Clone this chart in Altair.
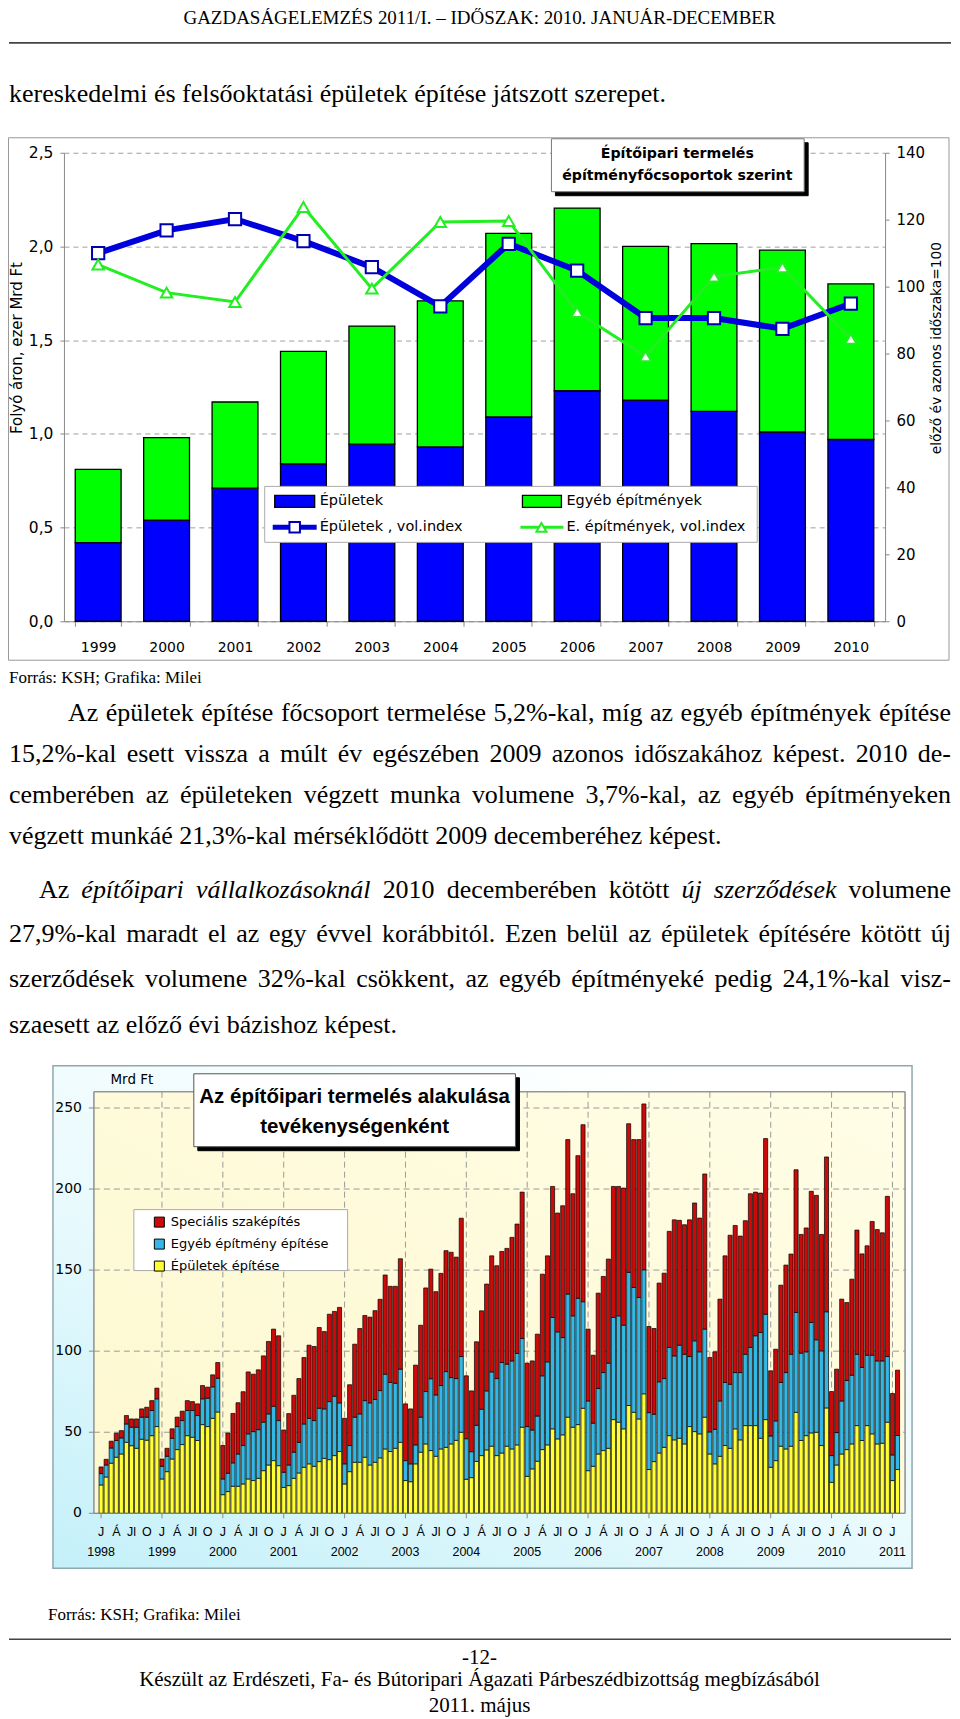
import altair as alt
import pandas as pd

SERIF = "Liberation Serif"
VERD = "DejaVu Sans"
ARIAL = "Liberation Sans"

# ---------------- chart 1 data (ezer Mrd Ft, index) ----------------
EVEK = ["1999", "2000", "2001", "2002", "2003", "2004", "2005", "2006", "2007", "2008", "2009", "2010"]
EPULETEK_FT = [0.42, 0.54, 0.71, 0.84, 0.945, 0.93, 1.09, 1.23, 1.18, 1.12, 1.01, 0.97]
EGYEB_FT = [0.39, 0.44, 0.46, 0.60, 0.63, 0.78, 0.98, 0.975, 0.82, 0.895, 0.97, 0.83]
EPULETEK_INDEX = [110.0, 116.8, 120.2, 113.6, 105.8, 94.1, 112.8, 104.8, 90.6, 90.6, 87.4, 94.9]
EGYEB_INDEX = [106.6, 98.2, 95.4, 123.8, 99.4, 119.3, 119.6, 92.4, 79.2, 103.0, 105.8, 84.4]
SOR1 = ["Épületek", "Egyéb építmények"]
LEFT_TICKS = [0, 0.5, 1.0, 1.5, 2.0, 2.5]
RIGHT_TICKS = [0, 20, 40, 60, 80, 100, 120, 140]

# ---------------- chart 2 data (Mrd Ft, monthly 1998-01 .. 2011-02) ----------------
HONAP_BETUK = ["J", "Á", "Jl", "O"]
EV_CIMKEK = ["1998", "1999", "2000", "2001", "2002", "2003", "2004",
             "2005", "2006", "2007", "2008", "2009", "2010", "2011"]
SOR2 = ["Speciális szaképítés", "Egyéb építmény építése", "Épületek építése"]
Y2_TICKS = [0, 50, 100, 150, 200, 250]

EPULETEK_EPITES = [
    17.5, 22.4, 30.9, 34.6, 36.6, 43.8, 41.7, 40.1, 45.7, 45.1, 47.9, 53.5,
    21.2, 25.7, 33.5, 39.3, 42.4, 47.9, 46.9, 44.9, 54.7, 53.5, 58.6, 62.5,
    11.5, 13.4, 16.7, 16.7, 18.1, 21.2, 20.2, 21.6, 26.3, 29.8, 32.5, 29.4,
    16.0, 17.1, 21.6, 24.9, 28.4, 30.5, 29.0, 31.9, 33.9, 33.1, 35.6, 38.1,
    18.1, 25.7, 31.5, 31.5, 34.6, 29.8, 31.5, 34.2, 39.7, 38.1, 40.1, 43.8,
    20.2, 19.5, 30.5, 37.7, 42.8, 38.7, 35.2, 39.7, 40.7, 42.8, 45.0, 50.0,
    21.0, 22.0, 32.0, 35.6, 39.1, 41.4, 35.6, 37.2, 41.4, 39.7, 42.2, 53.1,
    22.8, 27.4, 32.1, 39.3, 42.2, 52.1, 45.9, 48.4, 59.3, 53.1, 54.7, 64.8,
    26.3, 29.0, 36.6, 38.7, 40.1, 57.8, 56.2, 52.1, 66.5, 62.3, 58.2, 73.7,
    27.0, 31.9, 37.2, 40.7, 47.9, 45.3, 46.3, 42.8, 53.5, 50.4, 49.0, 59.3,
    36.6, 30.5, 35.2, 41.8, 40.1, 52.1, 45.3, 54.1, 54.1, 54.1, 46.3, 57.8,
    28.4, 32.5, 41.4, 39.7, 41.4, 62.3, 44.9, 47.9, 49.6, 50.0, 41.8, 65.0,
    19.1, 29.8, 36.6, 39.3, 42.8, 54.1, 44.9, 54.1, 49.0, 42.8, 43.2, 56.2,
    20.2, 27.0,
]
EGYEB_EPITES = [
    7.0, 7.4, 9.4, 10.3, 9.9, 11.3, 11.4, 13.0, 13.6, 14.2, 15.5, 17.1,
    7.8, 9.5, 12.8, 14.2, 14.8, 15.5, 16.5, 15.4, 15.9, 17.5, 19.4, 20.8,
    9.7, 11.3, 14.4, 19.9, 23.7, 27.8, 30.2, 30.0, 29.9, 31.5, 33.5, 27.8,
    9.3, 12.7, 16.1, 18.9, 26.7, 28.1, 28.2, 32.9, 30.5, 35.8, 36.6, 30.0,
    12.4, 16.1, 27.8, 29.8, 34.9, 38.3, 38.7, 41.5, 46.1, 42.6, 40.1, 45.1,
    12.3, 11.0, 11.7, 21.6, 32.3, 44.3, 37.8, 39.1, 46.7, 40.9, 38.1, 46.7,
    25.0, 16.0, 22.3, 28.6, 36.4, 45.8, 47.5, 55.8, 50.6, 54.3, 56.4, 54.7,
    30.7, 24.0, 27.9, 45.5, 51.2, 68.7, 66.0, 60.0, 75.9, 68.7, 77.9, 65.7,
    43.0, 26.6, 40.4, 48.1, 52.5, 63.0, 65.6, 63.9, 82.1, 77.0, 74.9, 76.5,
    35.1, 29.2, 43.9, 42.4, 54.4, 51.8, 57.4, 55.3, 43.2, 56.0, 50.6, 54.3,
    13.6, 21.3, 34.1, 38.9, 39.5, 34.7, 41.5, 44.0, 48.2, 55.4, 65.2, 65.0,
    19.3, 24.5, 39.3, 47.1, 56.7, 61.6, 53.9, 51.7, 68.1, 57.0, 58.4, 59.3,
    16.5, 20.0, 32.7, 42.6, 42.4, 44.0, 45.1, 43.4, 48.5, 51.2, 50.8, 40.5,
    15.8, 21.0,
]
SPECIALIS_SZAKEPITES = [
    4.1, 3.5, 4.2, 4.5, 4.5, 5.2, 5.1, 5.1, 5.1, 6.1, 6.1, 6.6,
    4.5, 4.9, 5.8, 5.8, 5.8, 6.1, 5.5, 7.2, 8.2, 6.8, 7.4, 9.7,
    20.6, 24.8, 30.5, 31.6, 33.2, 38.2, 35.4, 36.9, 40.9, 44.7, 47.6, 52.3,
    26.1, 31.7, 35.1, 39.3, 41.0, 45.1, 45.7, 49.8, 47.7, 53.9, 52.3, 58.9,
    28.1, 37.5, 45.0, 52.7, 52.5, 52.9, 54.8, 56.3, 61.2, 59.3, 59.8, 68.1,
    35.0, 33.9, 49.2, 56.7, 63.9, 67.6, 63.7, 69.2, 74.6, 77.3, 74.9, 85.3,
    38.8, 37.5, 51.5, 60.7, 65.9, 71.6, 69.6, 68.5, 71.4, 76.2, 79.8, 90.3,
    39.1, 42.6, 50.5, 62.7, 65.4, 80.8, 73.3, 81.3, 95.3, 75.3, 88.0, 109.2,
    44.3, 41.9, 58.8, 59.3, 64.2, 80.8, 79.8, 84.6, 91.7, 91.2, 97.4, 102.3,
    53.1, 52.9, 60.9, 65.0, 71.6, 83.9, 77.0, 79.9, 84.3, 85.0, 82.5, 95.7,
    45.9, 47.8, 62.8, 78.1, 91.9, 90.7, 84.2, 82.4, 94.8, 88.6, 86.0, 108.3,
    40.2, 44.2, 60.0, 66.3, 61.8, 88.0, 73.2, 76.4, 80.9, 89.1, 71.8, 95.5,
    39.5, 39.1, 62.8, 48.1, 59.2, 76.6, 70.0, 67.5, 82.5, 81.0, 79.0, 98.8,
    37.9, 40.3,
]

# ---------------- page texts ----------------
HEADER = "GAZDASÁGELEMZÉS 2011/I. – IDŐSZAK: 2010. JANUÁR-DECEMBER"
INTRO = "kereskedelmi és felsőoktatási épületek építése játszott szerepet."
FORRAS = "Forrás: KSH; Grafika: Milei"
TITLE1 = ["Építőipari termelés", "építményfőcsoportok szerint"]
TITLE2 = ["Az építőipari termelés alakulása", "tevékenységenként"]
LEG1 = ["Épületek", "Épületek , vol.index", "Egyéb építmények", "E. építmények, vol.index"]
FOOTER = ["-12-", "Készült az Erdészeti, Fa- és Bútoripari Ágazati Párbeszédbizottság megbízásából",
          "2011. május"]
PARA = [
    [("Az épületek építése főcsoport termelése 5,2%-kal, míg az egyéb építmények építése", False)],
    [("15,2%-kal esett vissza a múlt év egészében 2009 azonos időszakához képest. 2010 de-", False)],
    [("cemberében az épületeken végzett munka volumene 3,7%-kal, az egyéb építményeken", False)],
    [("végzett munkáé 21,3%-kal mérséklődött 2009 decemberéhez képest.", False)],
    [("Az", False), ("építőipari vállalkozásoknál", True), ("2010 decemberében kötött", False),
     ("új szerződések", True), ("volumene", False)],
    [("27,9%-kal maradt el az egy évvel korábbitól. Ezen belül az épületek építésére kötött új", False)],
    [("szerződések volumene 32%-kal csökkent, az egyéb építményeké pedig 24,1%-kal visz-", False)],
    [("szaesett az előző évi bázishoz képest.", False)],
]
# layout (page px): (baseline-middle y, left x, justified)
PARA_LAYOUT = [(713, 68, True), (754, 9, True), (795, 9, True), (836, 9, False),
               (890, 39, True), (934, 9, True), (979, 9, True), (1025, 9, False)]
PARA_RIGHT = 952
PARA_SIZE = 26

# Times New Roman advance widths (1/1000 em) for word placement of justified lines
_TR = dict(zip("abcdefghijklmnopqrstuvwxyz", [444, 500, 444, 500, 444, 333, 500, 500, 278, 278, 500, 278, 778,
                                              500, 500, 500, 500, 333, 389, 278, 500, 500, 722, 500, 500, 444]))
_TR.update({"á": 444, "é": 444, "í": 278, "ó": 500, "ö": 500, "ő": 500, "ú": 500, "ü": 500, "ű": 500,
            "A": 722, "E": 611, "K": 722, " ": 250, ",": 250, ".": 250, "%": 833, "-": 333, ":": 278})
for _d in "0123456789":
    _TR[_d] = 500
_TI = dict(_TR)
_TI.update(dict(zip("abcdefghijklmnopqrstuvwxyz", [500, 500, 444, 500, 444, 278, 500, 500, 278, 278, 444, 278, 722,
                                                   500, 500, 500, 500, 389, 389, 278, 500, 444, 667, 444, 444, 389])))
_TI.update({"á": 500, "é": 444, "í": 278, "ó": 500, "ö": 500, "ő": 500, "ú": 500, "ü": 500, "ű": 500})


def tw(s, it):
    tab = _TI if it else _TR
    return sum(tab.get(c, 500) for c in s) / 1000.0


ONE = pd.DataFrame({"k": [0]})
PX0 = 64  # page x of the common view origin


def txt(s, x, y, oy, size, font=SERIF, align="left", style="normal", weight="normal"):
    return alt.Chart(ONE).mark_text(
        align=align, baseline="middle", font=font, fontSize=size, fontStyle=style,
        fontWeight=weight, color="black"
    ).encode(x=alt.value(x - PX0), y=alt.value(y - oy), text=alt.value(s))


def box(x1, y1, x2, y2, oy, fill="white", stroke="#999999", sw=1.0, fo=1.0):
    return alt.Chart(ONE).mark_rect(fill=fill, fillOpacity=fo, stroke=stroke, strokeWidth=sw).encode(
        x=alt.value(x1 - PX0), x2=alt.value(x2 - PX0), y=alt.value(y1 - oy), y2=alt.value(y2 - oy))


def hline(x1, x2, y, oy, color="#333333", sw=1.5):
    return alt.Chart(ONE).mark_rule(color=color, strokeWidth=sw).encode(
        x=alt.value(x1 - PX0), x2=alt.value(x2 - PX0), y=alt.value(y - oy))


def sym(x, y, oy, shape, stroke, size):
    return alt.Chart(ONE).mark_point(shape=shape, size=size, filled=True, fill="white",
                                     stroke=stroke, strokeWidth=2, opacity=1).encode(
        x=alt.value(x - PX0), y=alt.value(y - oy))


# ---------------- row 1: header ----------------
OY_R1 = 8
row1 = alt.layer(
    txt(HEADER, 480, 17, OY_R1, 19, align="center"),
    hline(9, 952, 42, OY_R1, "#444444", 1.6),
    txt(INTRO, 9, 93, OY_R1, 26),
).properties(width=822, height=144)

# ---------------- row 2: chart 1 ----------------
OY1 = 152
W1, H1 = 822, 469
df_bar = pd.DataFrame({
    "ev": EVEK + EVEK,
    "sor": [SOR1[0]] * len(EVEK) + [SOR1[1]] * len(EVEK),
    "ertek": EPULETEK_FT + EGYEB_FT,
    "rend": [0] * len(EVEK) + [1] * len(EVEK),
})
df_ie = pd.DataFrame({"ev": EVEK, "index": EPULETEK_INDEX})
df_ig = pd.DataFrame({"ev": EVEK, "index": EGYEB_INDEX})

x1_axis = alt.Axis(title=None, labelAngle=0, labelFont=VERD, labelFontSize=14, labelColor="black",
                   tickBand="extent", tickSize=5, tickColor="#888888", domainColor="#888888",
                   labelPadding=14, grid=False)
x1 = alt.X("ev:N", sort=EVEK, scale=alt.Scale(paddingInner=0.33, paddingOuter=0.165), axis=x1_axis)

TITLE_Y = 347 - OY1
y1_axis = alt.Axis(orient="left", title="Folyó áron, ezer Mrd Ft", values=LEFT_TICKS,
                   labelExpr="replace(format(datum.value, '.1f'), '.', ',')",
                   labelFont=VERD, labelFontSize=15.5, labelColor="black",
                   titleFont=VERD, titleFontSize=15, titleFontWeight="normal", titleColor="black",
                   titleX=17 - PX0, titleY=TITLE_Y, titleAngle=270, titleAlign="center",
                   titleBaseline="middle", tickSize=4, tickColor="#888888", domainColor="#888888",
                   labelPadding=7, grid=True, gridDash=[5, 4], gridColor="#a0a0a0")
y1r_axis = alt.Axis(orient="right", title="előző év azonos időszaka=100", values=RIGHT_TICKS,
                    labelFont=VERD, labelFontSize=15, labelColor="black",
                    titleFont=VERD, titleFontSize=13.8, titleFontWeight="normal", titleColor="black",
                    titleX=937 - 886, titleY=TITLE_Y, titleAngle=270, titleAlign="center",
                    titleBaseline="middle", tickSize=4, tickColor="#888888",
                    domainColor="#888888", labelPadding=7, grid=False)
y1r = alt.Y("index:Q", scale=alt.Scale(domain=[0, 140], nice=False), axis=y1r_axis)

bars1 = alt.Chart(df_bar).mark_bar(stroke="black", strokeWidth=1.3).encode(
    x=x1,
    y=alt.Y("ertek:Q", stack="zero", scale=alt.Scale(domain=[0, 2.5], nice=False), axis=y1_axis),
    color=alt.Color("sor:N", scale=alt.Scale(domain=SOR1, range=["#0000ff", "#00ff00"]), legend=None),
    order=alt.Order("rend:Q"),
)
line_e = alt.Chart(df_ie).mark_line(color="#0000dd", strokeWidth=6).encode(x=x1, y=y1r)
pts_e = alt.Chart(df_ie).mark_point(shape="square", size=150, filled=True, fill="white",
                                   stroke="#0000b0", strokeWidth=2, opacity=1).encode(x=x1, y=y1r)
line_g = alt.Chart(df_ig).mark_line(color="#22ee22", strokeWidth=3).encode(x=x1, y=y1r)
pts_g = alt.Chart(df_ig).mark_point(shape="triangle-up", size=130, filled=True, fill="white",
                                   stroke="#22ee22", strokeWidth=2, opacity=1).encode(x=x1, y=y1r)
idx_layer = alt.layer(line_e, pts_e, line_g, pts_g)

frame1 = box(8.5, 137, 950, 660, OY1, fill="white", stroke="#999999", sw=1, fo=0)
LEGF = 14.5
legend1 = [
    box(265, 486, 758, 542, OY1, fill="white", stroke="#aaaaaa", sw=1),
    box(275, 495, 315, 507, OY1, fill="#0000ff", stroke="black", sw=1.3),
    txt(LEG1[0], 320, 501, OY1, LEGF, font=VERD),
    hline(273, 317, 527, OY1, "#0000dd", 5),
    sym(295, 527, OY1, "square", "#0000b0", 110),
    txt(LEG1[1], 320, 527, OY1, LEGF, font=VERD),
    box(523, 495, 562, 507, OY1, fill="#00ff00", stroke="black", sw=1.3),
    txt(LEG1[2], 567, 501, OY1, LEGF, font=VERD),
    hline(521, 564, 527, OY1, "#22ee22", 3),
    sym(542, 527, OY1, "triangle-up", "#22ee22", 100),
    txt(LEG1[3], 567, 527, OY1, LEGF, font=VERD),
]
title1 = [
    box(556, 142, 809, 195, OY1, fill="black", stroke="black", sw=1),
    box(552, 138, 805, 191, OY1, fill="white", stroke="#777777", sw=1),
    txt(TITLE1[0], 678, 153, OY1, 14.2, font=VERD, align="center", weight="bold"),
    txt(TITLE1[1], 678, 175, OY1, 14.2, font=VERD, align="center", weight="bold"),
]
chart1 = alt.layer(frame1, bars1, idx_layer, *legend1, *title1).resolve_scale(
    y="independent").properties(width=W1, height=H1)

# ---------------- row 3: source + justified paragraph ----------------
OY_R3 = 621
words = []
for segs, (py, px, just) in zip(PARA, PARA_LAYOUT):
    toks = []
    for s, it in segs:
        for w in s.split(" "):
            if w:
                toks.append((w, it))
    wid = [tw(w, it) * PARA_SIZE for w, it in toks]
    space = 0.25 * PARA_SIZE
    if just and len(toks) > 1:
        gap = (PARA_RIGHT - px - sum(wid)) / (len(toks) - 1)
        gap = max(gap, 0.12 * PARA_SIZE)
    else:
        gap = space
    x = px
    for (w, it), ww in zip(toks, wid):
        words.append({"x": x - PX0, "y": py - OY_R3, "t": w, "it": it})
        x += ww + gap
df_words = pd.DataFrame(words)


def word_layer(italic):
    d = df_words[df_words["it"] == italic]
    return alt.Chart(d).mark_text(align="left", baseline="middle", font=SERIF, fontSize=PARA_SIZE,
                                  fontStyle="italic" if italic else "normal", color="black").encode(
        x=alt.X("x:Q", scale=None, axis=None), y=alt.Y("y:Q", scale=None, axis=None), text="t:N")


row3 = alt.layer(txt(FORRAS, 9, 678, OY_R3, 17), word_layer(False), word_layer(True)).properties(
    width=822, height=471)

# ---------------- row 4: chart 2 ----------------
OY2 = 1092
W2, H2 = 842, 422
N2 = len(EPULETEK_EPITES)
STEP2 = 812 / N2
X0 = -0.5 - 30 / STEP2
xs2 = alt.Scale(domain=[X0, N2 - 0.5], nice=False, zero=False)
ys2 = alt.Scale(domain=[0, 260], nice=False)

rows = []
for rend, (nev, vals) in enumerate([(SOR2[2], EPULETEK_EPITES), (SOR2[1], EGYEB_EPITES),
                                    (SOR2[0], SPECIALIS_SZAKEPITES)]):
    for i, v in enumerate(vals):
        rows.append({"idx": i, "sor": nev, "ertek": v, "rend": rend})
df2 = pd.DataFrame(rows)

jan_idx = [12 * k for k in range(len(EV_CIMKEK)) if 12 * k < N2]
df_vgrid = pd.DataFrame({"idx": jan_idx[1:]})
df_ticks_x = pd.DataFrame({"idx": jan_idx})
df_years = pd.DataFrame({"idx": jan_idx, "t": EV_CIMKEK[:len(jan_idx)]})
mrows = []
for k in range(len(EV_CIMKEK)):
    for j, b in enumerate(HONAP_BETUK):
        i = 12 * k + 3 * j
        if i < N2:
            mrows.append({"idx": i, "t": b})
df_months = pd.DataFrame(mrows)
df_y2 = pd.DataFrame({"v": Y2_TICKS})
df_hgrid = pd.DataFrame({"v": Y2_TICKS[1:]})

grad_frame = alt.LinearGradient(gradient="linear", x1=0, y1=1, x2=0.7, y2=0, stops=[
    alt.GradientStop(color="#c4f0f9", offset=0), alt.GradientStop(color="#e9fafd", offset=0.5),
    alt.GradientStop(color="#ffffff", offset=1)])
grad_plot = alt.LinearGradient(gradient="linear", x1=0, y1=1, x2=1, y2=0, stops=[
    alt.GradientStop(color="#fdf8cf", offset=0), alt.GradientStop(color="#fffde6", offset=1)])

frame2 = box(53, 1066, 913, 1569, OY2, fill=grad_frame, stroke="#8fa8b0", sw=1.5)
plotbg2 = box(94, 1092, 906, 1514, OY2, fill=grad_plot, stroke="#999999", sw=1)
plotborder2 = box(94, 1092, 906, 1514, OY2, fill="white", stroke="#8a8a8a", sw=1, fo=0)

hgrid = alt.Chart(df_hgrid).mark_rule(color="#9a9a9a", strokeDash=[6, 4], strokeWidth=1).encode(
    y=alt.Y("v:Q", scale=ys2, axis=None), x=alt.value(30), x2=alt.value(842))
vgrid = alt.Chart(df_vgrid).mark_rule(color="#9a9a9a", strokeDash=[6, 4], strokeWidth=1).encode(
    x=alt.X("idx:Q", scale=xs2, axis=None), y=alt.value(0), y2=alt.value(H2))

leg2 = alt.Legend(title=None, orient="none", legendX=89, legendY=124, direction="vertical",
                  symbolType="square", symbolSize=100, symbolStrokeColor="black",
                  symbolStrokeWidth=1, labelFont=VERD, labelFontSize=13, labelColor="black",
                  labelOffset=5, rowPadding=7, padding=0, labelLimit=300)
bars2 = alt.Chart(df2).mark_bar(size=4.1, stroke="black", strokeWidth=0.7).encode(
    x=alt.X("idx:Q", scale=xs2, axis=None),
    y=alt.Y("ertek:Q", stack="zero", scale=ys2, axis=None),
    color=alt.Color("sor:N", scale=alt.Scale(domain=SOR2, range=["#cc0a0a", "#35b7e6", "#ffff33"]),
                    legend=leg2),
    order=alt.Order("rend:Q"),
)
yticks2 = alt.Chart(df_y2).mark_rule(color="#8a8a8a").encode(
    y=alt.Y("v:Q", scale=ys2, axis=None), x=alt.value(25), x2=alt.value(30))
ylabels2 = alt.Chart(df_y2).mark_text(align="right", baseline="middle", font=VERD, fontSize=14,
                                      color="black").encode(
    y=alt.Y("v:Q", scale=ys2, axis=None), x=alt.value(18), text="v:Q")
xticks2 = alt.Chart(df_ticks_x).mark_rule(color="#8a8a8a").encode(
    x=alt.X("idx:Q", scale=xs2, axis=None), y=alt.value(H2), y2=alt.value(H2 + 5))
mlabels2 = alt.Chart(df_months).mark_text(align="center", baseline="middle", font=ARIAL,
                                          fontSize=12.5, color="black").encode(
    x=alt.X("idx:Q", scale=xs2, axis=None), y=alt.value(1533 - OY2), text="t:N")
ylab2 = alt.Chart(df_years).mark_text(align="center", baseline="middle", font=ARIAL,
                                      fontSize=12.5, color="black").encode(
    x=alt.X("idx:Q", scale=xs2, axis=None), y=alt.value(1553 - OY2), text="t:N")

deco2 = [
    txt("Mrd Ft", 132, 1080, OY2, 13.5, font=VERD, align="center"),
    box(198, 1078, 520, 1151, OY2, fill="black", stroke="black", sw=1),
    box(194, 1074, 516, 1147, OY2, fill="white", stroke="#555555", sw=1),
    txt(TITLE2[0], 355, 1097, OY2, 20.5, font=ARIAL, align="center", weight="bold"),
    txt(TITLE2[1], 355, 1127, OY2, 20.5, font=ARIAL, align="center", weight="bold"),
    box(134, 1210, 348, 1271, OY2, fill="white", stroke="#aaaaaa", sw=1),
]
chart2 = alt.layer(frame2, plotbg2, hgrid, vgrid, bars2, plotborder2, yticks2, ylabels2,
                   xticks2, mlabels2, ylab2, *deco2).properties(width=W2, height=H2)

# ---------------- row 5: footer ----------------
OY_R5 = 1514
row5 = alt.layer(
    txt(FORRAS, 48, 1616, OY_R5, 17),
    hline(9, 952, 1640, OY_R5, "#444444", 1.6),
    txt(FOOTER[0], 480, 1659, OY_R5, 21, align="center"),
    txt(FOOTER[1], 480, 1681, OY_R5, 21, align="center"),
    txt(FOOTER[2], 480, 1707, OY_R5, 21, align="center"),
).properties(width=822, height=197)

chart = alt.vconcat(row1, chart1, row3, chart2, row5, spacing=0, bounds="flush").resolve_scale(
    x="independent", y="independent", color="independent"
).properties(padding=0, background="white").configure_view(stroke=None)

chart.save("out.html", embed_options={"renderer": "svg", "actions": False})
